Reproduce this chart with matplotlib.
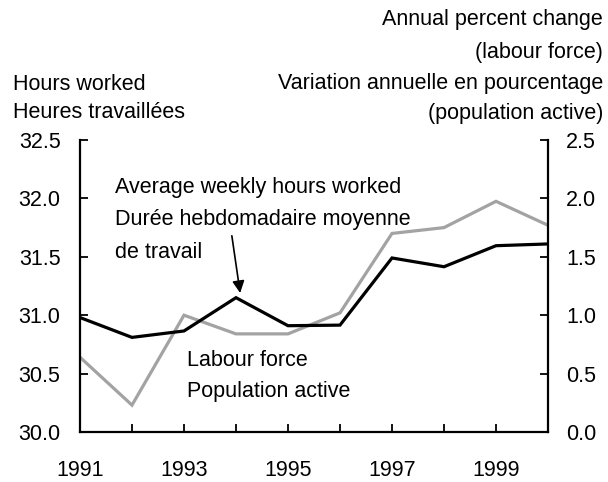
import matplotlib
matplotlib.use("Agg")
import matplotlib.pyplot as plt

years = [1991, 1992, 1993, 1994, 1995, 1996, 1997, 1998, 1999, 2000]
hours_worked = [30.98, 30.81, 30.865, 31.15, 30.91, 30.915, 31.49, 31.415, 31.595, 31.61]
labour_force_change = [0.64, 0.23, 1.0, 0.84, 0.84, 1.02, 1.70, 1.75, 1.975, 1.77]
left_ticks = [30.0, 30.5, 31.0, 31.5, 32.0, 32.5]
right_ticks = [0.0, 0.5, 1.0, 1.5, 2.0, 2.5]
xtick_labels = ["1991", "", "1993", "", "1995", "", "1997", "", "1999", ""]

plt.rcParams['font.family'] = ['Liberation Sans', 'DejaVu Sans']
FS = 15.5

W, H = 608, 482
fig = plt.figure(figsize=(W / 100, H / 100), dpi=100)
ax = fig.add_axes([80 / W, (H - 432) / H, (548 - 80) / W, (432 - 140) / H])
ax2 = ax.twinx()

ax.plot(years, hours_worked, color='black', lw=2.3, zorder=3, solid_joinstyle='miter')
ax2.plot(years, labour_force_change, color='#a3a3a3', lw=2.3, zorder=2, solid_joinstyle='miter')
ax.set_zorder(ax2.get_zorder() + 1)
ax.patch.set_visible(False)

ax.set_xlim(1991, 2000)
ax.set_ylim(30.0, 32.5)
ax2.set_ylim(0.0, 2.5)
ax.set_xticks(years)
ax.set_xticklabels(xtick_labels)
ax.set_yticks(left_ticks)
ax.set_yticklabels([f"{v:.1f}" for v in left_ticks])
ax2.set_yticks(right_ticks)
ax2.set_yticklabels([f"{v:.1f}" for v in right_ticks])

for a in (ax, ax2):
    for s in a.spines.values():
        s.set_linewidth(1.6)
    a.spines['top'].set_visible(False)
ax.spines['right'].set_visible(False)
ax2.spines['left'].set_visible(False)
ax2.spines['bottom'].set_visible(False)

ax.tick_params(axis='y', direction='in', length=6, width=1.3, labelsize=FS, pad=14)
ax.tick_params(axis='x', direction='in', length=6, width=1.3, labelsize=FS, pad=20)
ax2.tick_params(axis='y', direction='in', length=6, width=1.3, labelsize=FS, pad=13)

def ftext(x, y, s, ha='left'):
    fig.text(x / W, 1 - y / H, s, ha=ha, va='center', fontsize=FS)

ftext(603, 19, "Annual percent change", 'right')
ftext(603, 52, "(labour force)", 'right')
ftext(603, 84, "Variation annuelle en pourcentage", 'right')
ftext(603, 114, "(population active)", 'right')
ftext(13, 84, "Hours worked")
ftext(13, 112, "Heures travaillées")

ftext(115, 187, "Average weekly hours worked")
ftext(115, 220, "Durée hebdomadaire moyenne")
ftext(115, 252, "de travail")
ftext(187, 360, "Labour force")
ftext(187, 391, "Population active")

ax.annotate("", xy=(1994 + 0.08, 31.19), xytext=(1993.92, 31.68),
            arrowprops=dict(arrowstyle='-|>', color='black', lw=1.2,
                            mutation_scale=18, shrinkA=0, shrinkB=0))

fig.savefig("out.png", dpi=100)
